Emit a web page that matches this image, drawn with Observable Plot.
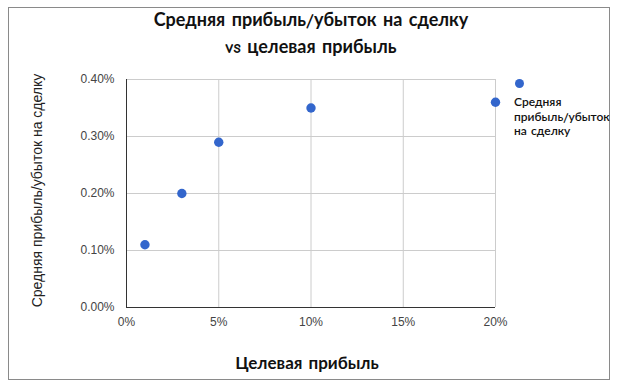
<!DOCTYPE html>
<html>
<head>
<meta charset="utf-8">
<script src="https://cdn.jsdelivr.net/npm/d3@7"></script>
<script src="https://cdn.jsdelivr.net/npm/@observablehq/plot@0.6"></script>
<style>
  body { margin: 0; background: #fff; }
  #wrap { position: relative; width: 622px; height: 389px; overflow: hidden; }
  #frame { position: absolute; left: 8px; top: 7px; width: 600px; height: 371px; border: 1.5px solid #8a8a8a; box-sizing: content-box; }
  .comic { font-family: "Comic Sans MS", "Comic Neue", Lato, sans-serif; font-weight: 700; color: #111; }
  #title { position: absolute; left: 0; width: 622px; top: 7px; text-align: center; font-size: 18px; line-height: 27px; }
  #xtitle { position: absolute; left: 0; width: 614px; top: 352px; text-align: center; font-size: 17px; }
  #chart { position: absolute; left: 0; top: 0; }
  #legend { position: absolute; left: 514px; top: 79px; font-size: 12px; line-height: 14.5px; font-weight: 600; }
  #legend .dot { width: 9px; height: 9px; border-radius: 50%; background: #3366cc; margin-left: 1px; margin-bottom: 7px; }
</style>
</head>
<body>
<div id="wrap">
  <div id="frame"></div>
  <div id="chart"></div>
  <div id="title" class="comic">Средняя прибыль/убыток на сделку<br>vs целевая прибыль</div>
  <div id="xtitle" class="comic">Целевая прибыль</div>
  <div id="legend" class="comic"></div>
</div>
<script>
const targetProfit = [0.01, 0.03, 0.05, 0.10, 0.20];
const avgProfitPerTrade = [0.0011, 0.0020, 0.0029, 0.0035, 0.0036];
const xTicks = [0, 0.05, 0.10, 0.15, 0.20];
const yTicks = [0, 0.001, 0.002, 0.003, 0.004];
const seriesName = "Средняя прибыль/убыток на сделку";
const yTitle = "Средняя прибыль/убыток на сделку";

const data = targetProfit.map((x, i) => ({x, y: avgProfitPerTrade[i]}));

const chart = Plot.plot({
  width: 622,
  height: 389,
  marginLeft: 126,
  marginRight: 127,
  marginTop: 79,
  marginBottom: 82,
  style: { fontFamily: "'Liberation Sans', Arial, sans-serif", fontSize: "12px", color: "#444", background: "transparent" },
  x: { domain: [0, 0.20], ticks: xTicks, tickFormat: d3.format(".0%"), tickSize: 0, tickPadding: 10, label: null },
  y: { domain: [0, 0.004], ticks: yTicks, tickFormat: d3.format(".2%"), tickSize: 0, tickPadding: 12, label: null },
  marks: [
    Plot.gridX(xTicks, { stroke: "#cccccc", strokeOpacity: 1 }),
    Plot.gridY(yTicks, { stroke: "#cccccc", strokeOpacity: 1 }),
    Plot.axisX({ ticks: xTicks, tickFormat: d3.format(".0%"), tickSize: 0, tickPadding: 10, label: null }),
    Plot.axisY({ ticks: yTicks, tickFormat: d3.format(".2%"), tickSize: 0, tickPadding: 12, label: null }),
    Plot.ruleX([0], { stroke: "#333" }),
    Plot.ruleY([0], { stroke: "#333" }),
    Plot.dot(data, { x: "x", y: "y", r: 4.7, fill: "#3366cc", stroke: null }),
    Plot.text([yTitle], { frameAnchor: "left", textAnchor: "middle", dx: -89, dy: -3, rotate: -90, fontSize: 14, fill: "#222", fontFamily: "'Liberation Sans', Arial, sans-serif" })
  ]
});
document.getElementById("chart").appendChild(chart);

const legend = document.getElementById("legend");
const dot = document.createElement("div");
dot.className = "dot";
legend.appendChild(dot);
const lbl = document.createElement("div");
lbl.innerHTML = "Средняя<br>прибыль/убыток<br>на сделку";
legend.appendChild(lbl);
</script>
</body>
</html>
